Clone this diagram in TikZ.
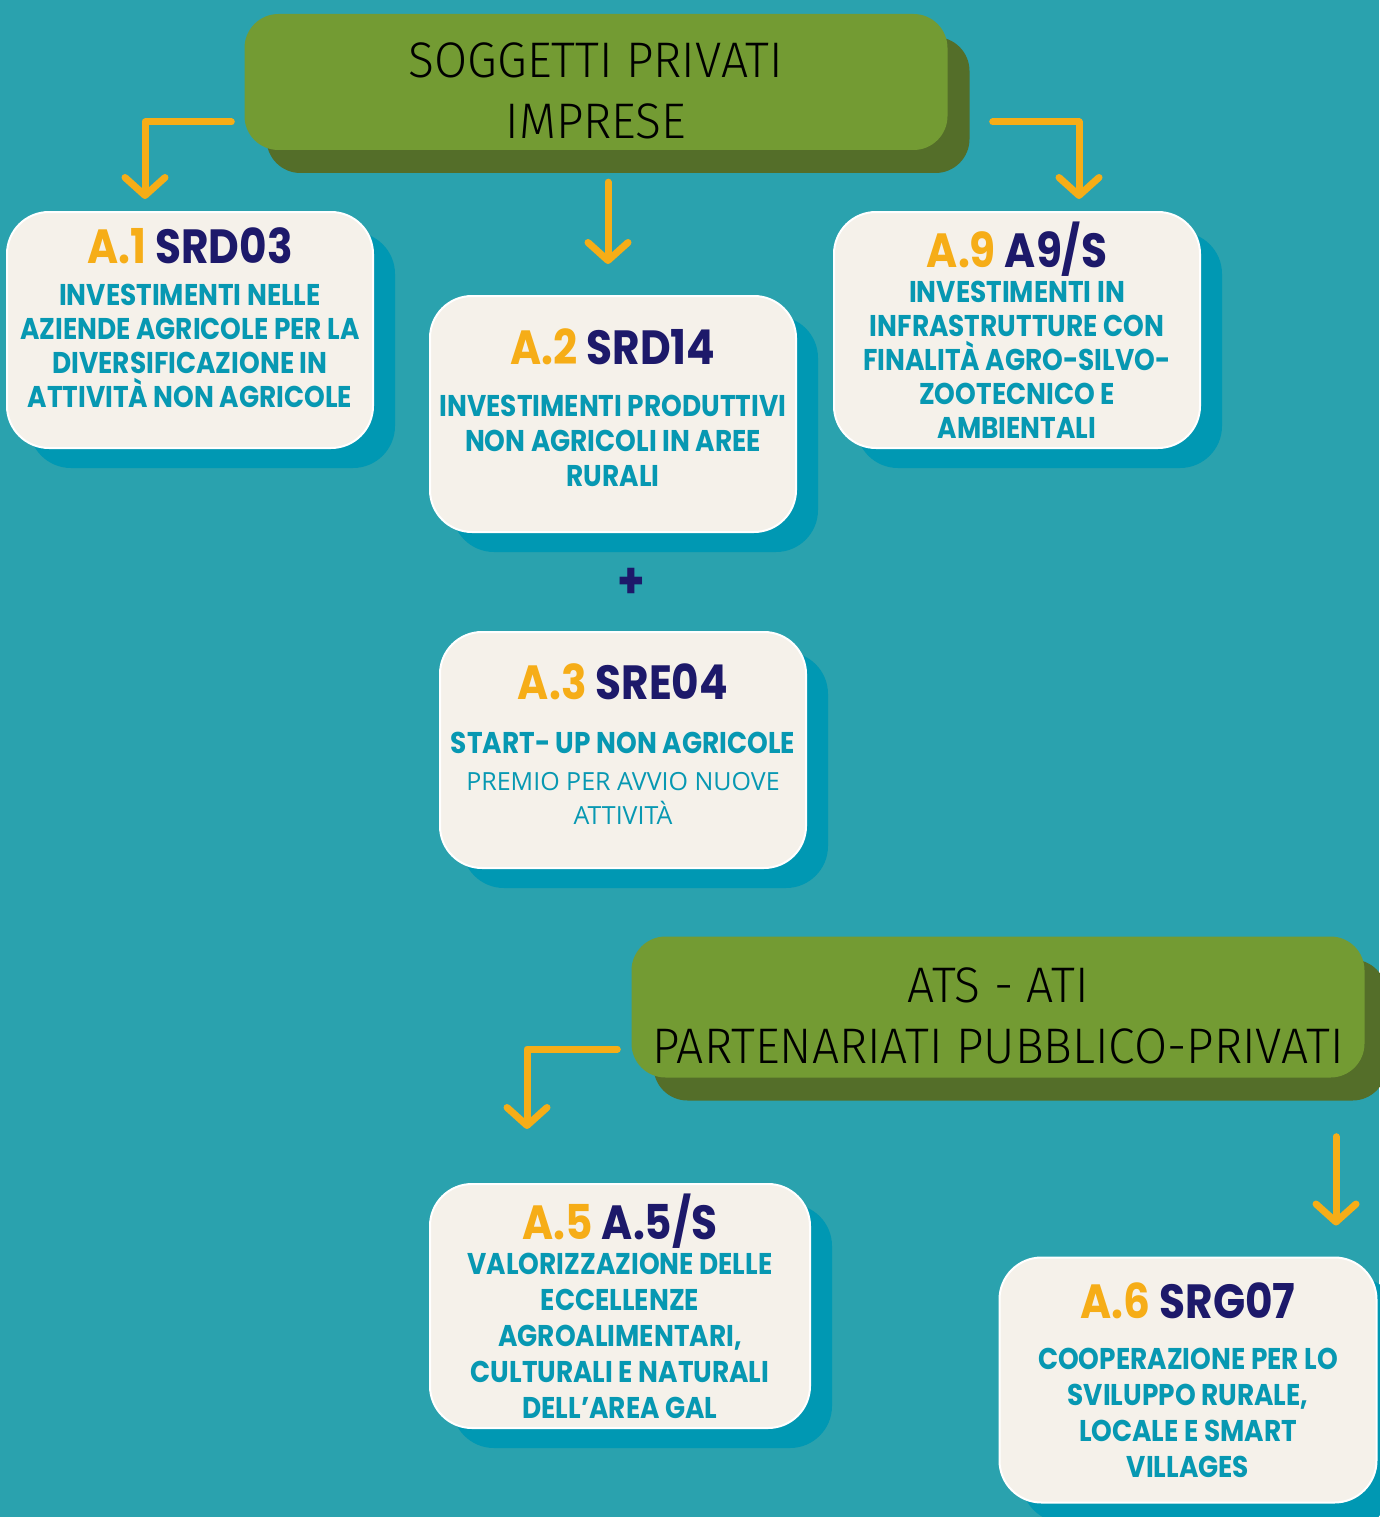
\documentclass[tikz,border=0pt]{standalone}
\usepackage{fontspec}
\usetikzlibrary{arrows.meta,calc,shadows}
\IfFontExistsTF{Fira Sans Light}
  {\newfontfamily\headfont[FakeStretch=0.96]{Fira Sans Light}}
  {\newfontfamily\headfont[FakeStretch=0.96]{Fira Sans}}
\newfontfamily\boxfont[FakeStretch=0.88]{Poppins}
\newfontfamily\plainfont{Open Sans}
\definecolor{bgteal}{HTML}{2AA2AE}
\definecolor{leafgreen}{HTML}{739B33}
\definecolor{leafdark}{HTML}{546E29}
\definecolor{arrowgold}{HTML}{F6AD17}
\definecolor{cream}{HTML}{F5F1EA}
\definecolor{shadowteal}{HTML}{0098B3}
\definecolor{textteal}{HTML}{0798B2}
\definecolor{codenavy}{HTML}{1D196A}
\newcommand\codeline[2]{{\fontsize{48}{50}\selectfont\color{arrowgold}#1 \color{codenavy}#2}}
\newcommand\headstrut{\rule{0pt}{52pt}}

\begin{document}
\begin{tikzpicture}[x=1pt,y=-1pt,
  leaf/.style={fill=leafgreen, rounded corners=34pt, minimum width=703pt, minimum height=136pt,
    drop shadow={fill=leafdark, opacity=1, shadow xshift=22pt, shadow yshift=-23pt},
    font=\headfont\fontsize{50}{61}\selectfont, align=center},
  card/.style={fill=cream, draw=white, line width=2pt, rounded corners=42pt,
    minimum width=366pt, minimum height=236pt,
    drop shadow={fill=shadowteal, opacity=1, shadow xshift=22pt, shadow yshift=-20pt},
    text=textteal, align=center, font=\boxfont\bfseries\fontsize{30}{34}\selectfont},
  arr/.style={draw=arrowgold, line width=7pt, line cap=round, line join=round,
    -{Straight Barb[length=18pt,width=40pt,round]}}]

\useasboundingbox (0,0) rectangle (1379,1517);
\fill[bgteal] (0,0) rectangle (1379,1517);

\node[leaf] (g1) at (596,82) {\headstrut SOGGETTI PRIVATI\\IMPRESE};
\node[leaf, minimum width=733pt, minimum height=141pt] (g2) at (998,1007) {\headstrut ATS - ATI\\PARTENARIATI PUBBLICO-PRIVATI};

\node[card, text depth=24pt] (a1) at (190,330) {\codeline{A.1}{SRD03}\\[8pt]INVESTIMENTI NELLE\\AZIENDE AGRICOLE PER LA\\DIVERSIFICAZIONE IN\\ATTIVITÀ NON AGRICOLE};
\node[card, text depth=12pt, font=\boxfont\bfseries\fontsize{30}{35}\selectfont] (a2) at (613,414) {\codeline{A.2}{SRD14}\\[17pt]INVESTIMENTI PRODUTTIVI\\NON AGRICOLI IN AREE\\RURALI};
\node[card] (a9) at (1017,330) {\codeline{A.9}{A9/S}\\[1pt]INVESTIMENTI IN\\INFRASTRUTTURE CON\\FINALITÀ AGRO-SILVO-\\ZOOTECNICO E\\AMBIENTALI};
\node[text=codenavy, font=\boxfont\bfseries\fontsize{50}{50}\selectfont] (plus) at (631,583) {+};
\node[card, text depth=12pt] (a3) at (623,750) {\codeline{A.3}{SRE04}\\[20pt]START- UP NON AGRICOLE\\[3pt]{\plainfont\mdseries\fontsize{25}{34}\selectfont PREMIO PER AVVIO NUOVE}\\{\plainfont\mdseries\fontsize{25}{34}\selectfont ATTIVITÀ}};
\node[card, minimum width=380pt, minimum height=244pt, font=\boxfont\bfseries\fontsize{30}{36}\selectfont] (a5) at (620,1306) {\codeline{A.5}{A.5/S}\\[-1pt]VALORIZZAZIONE DELLE\\ECCELLENZE\\AGROALIMENTARI,\\CULTURALI E NATURALI\\DELL’AREA GAL};
\node[card, minimum width=377pt, minimum height=245pt, font=\boxfont\bfseries\fontsize{30}{36}\selectfont] (a6) at (1188,1380) {\codeline{A.6}{SRG07}\\[15pt]COOPERAZIONE PER LO\\SVILUPPO RURALE,\\LOCALE E SMART\\VILLAGES};

\draw[arr, shorten >=12pt] ([xshift=-13pt,yshift=-40pt]g1.west) -| ([xshift=-45pt]a1.north);
\draw[arr, shorten <=32pt, shorten >=31pt] ([xshift=-5pt]a2.north |- g1.south) -- ([xshift=-5pt]a2.north);
\draw[arr, shorten >=12pt] ([xshift=45pt,yshift=-40pt]g1.east) -| ([xshift=62pt]a9.north);
\draw[arr, shorten >=54pt] ([xshift=-14pt,yshift=-42pt]g2.west) -| ([xshift=-93pt]a5.north);
\draw[arr, shorten <=59pt, shorten >=31pt] ([xshift=148pt]a6.north |- g2.south) -- ([xshift=148pt]a6.north);

\end{tikzpicture}
\end{document}
